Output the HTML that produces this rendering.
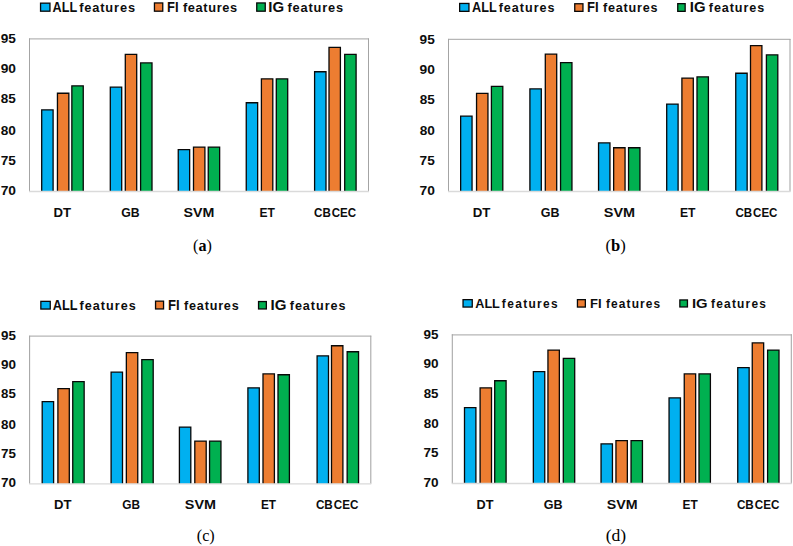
<!DOCTYPE html>
<html><head><meta charset="utf-8"><style>
html,body{margin:0;padding:0;background:#fff;}
svg{display:block;}
</style></head><body>
<svg width="793" height="546" viewBox="0 0 793 546">
<rect width="793" height="546" fill="#fff"/>
<line x1="29.0" y1="38.9" x2="369.0" y2="38.9" stroke="#B6B6B6" stroke-width="1.2"/>
<line x1="29.5" y1="38.4" x2="29.5" y2="191.5" stroke="#A4A4A4" stroke-width="1.05"/>
<line x1="368.5" y1="38.4" x2="368.5" y2="191.5" stroke="#A4A4A4" stroke-width="1.05"/>
<rect x="41.70" y="109.85" width="11.40" height="81.65" fill="#00B0F0"/>
<path d="M41.70,191.50 V109.85 H53.10 V191.50" fill="none" stroke="#080808" stroke-width="1.3"/>
<rect x="57.45" y="93.25" width="11.40" height="98.25" fill="#ED7D31"/>
<path d="M57.45,191.50 V93.25 H68.85 V191.50" fill="none" stroke="#080808" stroke-width="1.3"/>
<rect x="71.85" y="85.85" width="11.40" height="105.65" fill="#00B050"/>
<path d="M71.85,191.50 V85.85 H83.25 V191.50" fill="none" stroke="#080808" stroke-width="1.3"/>
<rect x="110.30" y="87.15" width="11.40" height="104.35" fill="#00B0F0"/>
<path d="M110.30,191.50 V87.15 H121.70 V191.50" fill="none" stroke="#080808" stroke-width="1.3"/>
<rect x="125.30" y="54.35" width="11.40" height="137.15" fill="#ED7D31"/>
<path d="M125.30,191.50 V54.35 H136.70 V191.50" fill="none" stroke="#080808" stroke-width="1.3"/>
<rect x="140.60" y="62.95" width="11.40" height="128.55" fill="#00B050"/>
<path d="M140.60,191.50 V62.95 H152.00 V191.50" fill="none" stroke="#080808" stroke-width="1.3"/>
<rect x="178.25" y="149.65" width="11.40" height="41.85" fill="#00B0F0"/>
<path d="M178.25,191.50 V149.65 H189.65 V191.50" fill="none" stroke="#080808" stroke-width="1.3"/>
<rect x="193.50" y="147.05" width="11.40" height="44.45" fill="#ED7D31"/>
<path d="M193.50,191.50 V147.05 H204.90 V191.50" fill="none" stroke="#080808" stroke-width="1.3"/>
<rect x="208.25" y="147.05" width="11.40" height="44.45" fill="#00B050"/>
<path d="M208.25,191.50 V147.05 H219.65 V191.50" fill="none" stroke="#080808" stroke-width="1.3"/>
<rect x="246.25" y="102.75" width="11.40" height="88.75" fill="#00B0F0"/>
<path d="M246.25,191.50 V102.75 H257.65 V191.50" fill="none" stroke="#080808" stroke-width="1.3"/>
<rect x="261.40" y="78.85" width="11.40" height="112.65" fill="#ED7D31"/>
<path d="M261.40,191.50 V78.85 H272.80 V191.50" fill="none" stroke="#080808" stroke-width="1.3"/>
<rect x="276.30" y="78.85" width="11.40" height="112.65" fill="#00B050"/>
<path d="M276.30,191.50 V78.85 H287.70 V191.50" fill="none" stroke="#080808" stroke-width="1.3"/>
<rect x="314.60" y="71.75" width="11.40" height="119.75" fill="#00B0F0"/>
<path d="M314.60,191.50 V71.75 H326.00 V191.50" fill="none" stroke="#080808" stroke-width="1.3"/>
<rect x="329.00" y="47.35" width="11.40" height="144.15" fill="#ED7D31"/>
<path d="M329.00,191.50 V47.35 H340.40 V191.50" fill="none" stroke="#080808" stroke-width="1.3"/>
<rect x="344.70" y="54.35" width="11.40" height="137.15" fill="#00B050"/>
<path d="M344.70,191.50 V54.35 H356.10 V191.50" fill="none" stroke="#080808" stroke-width="1.3"/>
<line x1="29.0" y1="191.5" x2="369.0" y2="191.5" stroke="#DADADA" stroke-width="1.3"/>
<text transform="translate(0.65,43.00) scale(1.0130,1)" font-family="Liberation Sans" font-weight="bold" font-size="13.48" fill="#0d0d0d">95</text>
<text transform="translate(0.65,73.00) scale(1.0229,1)" font-family="Liberation Sans" font-weight="bold" font-size="13.48" fill="#0d0d0d">90</text>
<text transform="translate(0.79,103.00) scale(1.0034,1)" font-family="Liberation Sans" font-weight="bold" font-size="13.48" fill="#0d0d0d">85</text>
<text transform="translate(0.79,135.00) scale(1.0130,1)" font-family="Liberation Sans" font-weight="bold" font-size="13.48" fill="#0d0d0d">80</text>
<text transform="translate(0.65,165.00) scale(1.0130,1)" font-family="Liberation Sans" font-weight="bold" font-size="13.48" fill="#0d0d0d">75</text>
<text transform="translate(0.65,195.00) scale(1.0229,1)" font-family="Liberation Sans" font-weight="bold" font-size="13.48" fill="#0d0d0d">70</text>
<text transform="translate(53.48,216.90) scale(1.0120,1)" font-family="Liberation Sans" font-weight="bold" font-size="13.04" fill="#0d0d0d">DT</text>
<text transform="translate(121.21,216.90) scale(0.9407,1)" font-family="Liberation Sans" font-weight="bold" font-size="13.04" fill="#0d0d0d">GB</text>
<text transform="translate(183.57,216.90) scale(1.0926,1)" font-family="Liberation Sans" font-weight="bold" font-size="13.04" fill="#0d0d0d">SVM</text>
<text transform="translate(259.45,216.90) scale(0.9264,1)" font-family="Liberation Sans" font-weight="bold" font-size="13.04" fill="#0d0d0d">ET</text>
<text transform="translate(314.04,216.90) scale(0.8907,1)" font-family="Liberation Sans" font-weight="bold" font-size="13.04" fill="#0d0d0d">CB</text>
<text transform="translate(331.74,216.90) scale(0.8869,1)" font-family="Liberation Sans" font-weight="bold" font-size="13.04" fill="#0d0d0d">CEC</text>
<rect x="40.55" y="3.15" width="9.40" height="8.05" fill="#00B0F0" stroke="#080808" stroke-width="1.3"/>
<text transform="translate(52.62,11.85) scale(0.9052,1)" font-family="Liberation Sans" font-weight="bold" font-size="13.99" fill="#0d0d0d">ALL</text>
<text x="79.14" y="11.85" letter-spacing="0.870" font-family="Liberation Sans" font-weight="bold" font-size="12.80" fill="#0d0d0d">features</text>
<rect x="154.45" y="2.95" width="8.30" height="8.25" fill="#ED7D31" stroke="#080808" stroke-width="1.3"/>
<text transform="translate(167.09,11.85) scale(0.9248,1)" font-family="Liberation Sans" font-weight="bold" font-size="13.99" fill="#0d0d0d">FI</text>
<text x="182.94" y="11.85" letter-spacing="0.627" font-family="Liberation Sans" font-weight="bold" font-size="12.80" fill="#0d0d0d">features</text>
<rect x="256.75" y="2.95" width="8.50" height="8.25" fill="#00B050" stroke="#080808" stroke-width="1.3"/>
<text transform="translate(268.25,11.85) scale(1.0725,1)" font-family="Liberation Sans" font-weight="bold" font-size="13.99" fill="#0d0d0d">IG</text>
<text x="287.44" y="11.85" letter-spacing="0.827" font-family="Liberation Sans" font-weight="bold" font-size="12.80" fill="#0d0d0d">features</text>
<text transform="translate(193.06,251.20) scale(0.9667,1)" font-family="Liberation Serif" font-weight="normal" font-size="16.67" fill="#000">(<tspan font-weight="bold">a</tspan>)</text>
<line x1="448.0" y1="39.4" x2="790.5" y2="39.4" stroke="#B6B6B6" stroke-width="1.2"/>
<line x1="448.5" y1="38.9" x2="448.5" y2="191.5" stroke="#A4A4A4" stroke-width="1.05"/>
<line x1="790" y1="38.9" x2="790" y2="191.5" stroke="#A4A4A4" stroke-width="1.05"/>
<rect x="460.65" y="116.15" width="11.40" height="75.35" fill="#00B0F0"/>
<path d="M460.65,191.50 V116.15 H472.05 V191.50" fill="none" stroke="#080808" stroke-width="1.3"/>
<rect x="476.55" y="93.45" width="11.40" height="98.05" fill="#ED7D31"/>
<path d="M476.55,191.50 V93.45 H487.95 V191.50" fill="none" stroke="#080808" stroke-width="1.3"/>
<rect x="491.40" y="86.45" width="11.40" height="105.05" fill="#00B050"/>
<path d="M491.40,191.50 V86.45 H502.80 V191.50" fill="none" stroke="#080808" stroke-width="1.3"/>
<rect x="529.90" y="88.95" width="11.40" height="102.55" fill="#00B0F0"/>
<path d="M529.90,191.50 V88.95 H541.30 V191.50" fill="none" stroke="#080808" stroke-width="1.3"/>
<rect x="545.30" y="54.15" width="11.40" height="137.35" fill="#ED7D31"/>
<path d="M545.30,191.50 V54.15 H556.70 V191.50" fill="none" stroke="#080808" stroke-width="1.3"/>
<rect x="560.55" y="62.65" width="11.40" height="128.85" fill="#00B050"/>
<path d="M560.55,191.50 V62.65 H571.95 V191.50" fill="none" stroke="#080808" stroke-width="1.3"/>
<rect x="598.55" y="142.95" width="11.40" height="48.55" fill="#00B0F0"/>
<path d="M598.55,191.50 V142.95 H609.95 V191.50" fill="none" stroke="#080808" stroke-width="1.3"/>
<rect x="613.65" y="147.75" width="11.40" height="43.75" fill="#ED7D31"/>
<path d="M613.65,191.50 V147.75 H625.05 V191.50" fill="none" stroke="#080808" stroke-width="1.3"/>
<rect x="628.55" y="147.75" width="11.40" height="43.75" fill="#00B050"/>
<path d="M628.55,191.50 V147.75 H639.95 V191.50" fill="none" stroke="#080808" stroke-width="1.3"/>
<rect x="666.70" y="104.05" width="11.40" height="87.45" fill="#00B0F0"/>
<path d="M666.70,191.50 V104.05 H678.10 V191.50" fill="none" stroke="#080808" stroke-width="1.3"/>
<rect x="681.90" y="78.05" width="11.40" height="113.45" fill="#ED7D31"/>
<path d="M681.90,191.50 V78.05 H693.30 V191.50" fill="none" stroke="#080808" stroke-width="1.3"/>
<rect x="697.00" y="76.85" width="11.40" height="114.65" fill="#00B050"/>
<path d="M697.00,191.50 V76.85 H708.40 V191.50" fill="none" stroke="#080808" stroke-width="1.3"/>
<rect x="735.75" y="73.25" width="11.40" height="118.25" fill="#00B0F0"/>
<path d="M735.75,191.50 V73.25 H747.15 V191.50" fill="none" stroke="#080808" stroke-width="1.3"/>
<rect x="750.50" y="45.55" width="11.40" height="145.95" fill="#ED7D31"/>
<path d="M750.50,191.50 V45.55 H761.90 V191.50" fill="none" stroke="#080808" stroke-width="1.3"/>
<rect x="766.40" y="54.85" width="11.40" height="136.65" fill="#00B050"/>
<path d="M766.40,191.50 V54.85 H777.80 V191.50" fill="none" stroke="#080808" stroke-width="1.3"/>
<line x1="448.0" y1="191.5" x2="790.5" y2="191.5" stroke="#DADADA" stroke-width="1.3"/>
<text transform="translate(419.55,44.00) scale(1.0130,1)" font-family="Liberation Sans" font-weight="bold" font-size="13.48" fill="#0d0d0d">95</text>
<text transform="translate(419.55,74.00) scale(1.0229,1)" font-family="Liberation Sans" font-weight="bold" font-size="13.48" fill="#0d0d0d">90</text>
<text transform="translate(419.69,104.00) scale(1.0034,1)" font-family="Liberation Sans" font-weight="bold" font-size="13.48" fill="#0d0d0d">85</text>
<text transform="translate(419.69,135.00) scale(1.0130,1)" font-family="Liberation Sans" font-weight="bold" font-size="13.48" fill="#0d0d0d">80</text>
<text transform="translate(419.55,165.00) scale(1.0130,1)" font-family="Liberation Sans" font-weight="bold" font-size="13.48" fill="#0d0d0d">75</text>
<text transform="translate(419.55,195.00) scale(1.0229,1)" font-family="Liberation Sans" font-weight="bold" font-size="13.48" fill="#0d0d0d">70</text>
<text transform="translate(472.77,217.20) scale(0.9960,1)" font-family="Liberation Sans" font-weight="bold" font-size="13.33" fill="#0d0d0d">DT</text>
<text transform="translate(540.80,217.20) scale(0.9362,1)" font-family="Liberation Sans" font-weight="bold" font-size="13.33" fill="#0d0d0d">GB</text>
<text transform="translate(603.77,217.20) scale(1.0833,1)" font-family="Liberation Sans" font-weight="bold" font-size="13.33" fill="#0d0d0d">SVM</text>
<text transform="translate(679.95,217.20) scale(0.9125,1)" font-family="Liberation Sans" font-weight="bold" font-size="13.33" fill="#0d0d0d">ET</text>
<text transform="translate(735.44,217.20) scale(0.8692,1)" font-family="Liberation Sans" font-weight="bold" font-size="13.33" fill="#0d0d0d">CB</text>
<text transform="translate(753.10,217.20) scale(0.8655,1)" font-family="Liberation Sans" font-weight="bold" font-size="13.33" fill="#0d0d0d">CEC</text>
<rect x="459.65" y="3.45" width="9.30" height="7.90" fill="#00B0F0" stroke="#080808" stroke-width="1.3"/>
<text transform="translate(472.12,12.00) scale(0.9206,1)" font-family="Liberation Sans" font-weight="bold" font-size="13.77" fill="#0d0d0d">ALL</text>
<text x="498.68" y="12.00" letter-spacing="0.988" font-family="Liberation Sans" font-weight="bold" font-size="12.60" fill="#0d0d0d">features</text>
<rect x="574.75" y="3.75" width="8.20" height="7.60" fill="#ED7D31" stroke="#080808" stroke-width="1.3"/>
<text transform="translate(587.09,12.00) scale(0.9448,1)" font-family="Liberation Sans" font-weight="bold" font-size="13.77" fill="#0d0d0d">FI</text>
<text x="603.04" y="12.00" letter-spacing="0.780" font-family="Liberation Sans" font-weight="bold" font-size="12.60" fill="#0d0d0d">features</text>
<rect x="677.75" y="3.65" width="7.40" height="7.70" fill="#00B050" stroke="#080808" stroke-width="1.3"/>
<text transform="translate(689.75,12.00) scale(1.0850,1)" font-family="Liberation Sans" font-weight="bold" font-size="13.77" fill="#0d0d0d">IG</text>
<text x="708.87" y="12.00" letter-spacing="0.904" font-family="Liberation Sans" font-weight="bold" font-size="12.60" fill="#0d0d0d">features</text>
<text transform="translate(605.54,251.00) scale(0.9947,1)" font-family="Liberation Serif" font-weight="normal" font-size="16.67" fill="#000">(<tspan font-weight="bold">b</tspan>)</text>
<line x1="29.1" y1="336.2" x2="371.3" y2="336.2" stroke="#B6B6B6" stroke-width="1.2"/>
<line x1="29.6" y1="335.7" x2="29.6" y2="483.8" stroke="#A4A4A4" stroke-width="1.05"/>
<line x1="370.8" y1="335.7" x2="370.8" y2="483.8" stroke="#A4A4A4" stroke-width="1.05"/>
<rect x="42.20" y="401.65" width="11.40" height="82.15" fill="#00B0F0"/>
<path d="M42.20,483.80 V401.65 H53.60 V483.80" fill="none" stroke="#080808" stroke-width="1.3"/>
<rect x="57.90" y="388.65" width="11.40" height="95.15" fill="#ED7D31"/>
<path d="M57.90,483.80 V388.65 H69.30 V483.80" fill="none" stroke="#080808" stroke-width="1.3"/>
<rect x="72.75" y="381.55" width="11.40" height="102.25" fill="#00B050"/>
<path d="M72.75,483.80 V381.55 H84.15 V483.80" fill="none" stroke="#080808" stroke-width="1.3"/>
<rect x="111.10" y="372.15" width="11.40" height="111.65" fill="#00B0F0"/>
<path d="M111.10,483.80 V372.15 H122.50 V483.80" fill="none" stroke="#080808" stroke-width="1.3"/>
<rect x="126.35" y="352.55" width="11.40" height="131.25" fill="#ED7D31"/>
<path d="M126.35,483.80 V352.55 H137.75 V483.80" fill="none" stroke="#080808" stroke-width="1.3"/>
<rect x="141.80" y="359.65" width="11.40" height="124.15" fill="#00B050"/>
<path d="M141.80,483.80 V359.65 H153.20 V483.80" fill="none" stroke="#080808" stroke-width="1.3"/>
<rect x="179.40" y="427.05" width="11.40" height="56.75" fill="#00B0F0"/>
<path d="M179.40,483.80 V427.05 H190.80 V483.80" fill="none" stroke="#080808" stroke-width="1.3"/>
<rect x="194.80" y="441.05" width="11.40" height="42.75" fill="#ED7D31"/>
<path d="M194.80,483.80 V441.05 H206.20 V483.80" fill="none" stroke="#080808" stroke-width="1.3"/>
<rect x="209.55" y="441.05" width="11.40" height="42.75" fill="#00B050"/>
<path d="M209.55,483.80 V441.05 H220.95 V483.80" fill="none" stroke="#080808" stroke-width="1.3"/>
<rect x="247.90" y="387.85" width="11.40" height="95.95" fill="#00B0F0"/>
<path d="M247.90,483.80 V387.85 H259.30 V483.80" fill="none" stroke="#080808" stroke-width="1.3"/>
<rect x="263.00" y="373.95" width="11.40" height="109.85" fill="#ED7D31"/>
<path d="M263.00,483.80 V373.95 H274.40 V483.80" fill="none" stroke="#080808" stroke-width="1.3"/>
<rect x="278.00" y="374.75" width="11.40" height="109.05" fill="#00B050"/>
<path d="M278.00,483.80 V374.75 H289.40 V483.80" fill="none" stroke="#080808" stroke-width="1.3"/>
<rect x="317.10" y="355.85" width="11.40" height="127.95" fill="#00B0F0"/>
<path d="M317.10,483.80 V355.85 H328.50 V483.80" fill="none" stroke="#080808" stroke-width="1.3"/>
<rect x="331.50" y="345.75" width="11.40" height="138.05" fill="#ED7D31"/>
<path d="M331.50,483.80 V345.75 H342.90 V483.80" fill="none" stroke="#080808" stroke-width="1.3"/>
<rect x="347.15" y="351.75" width="11.40" height="132.05" fill="#00B050"/>
<path d="M347.15,483.80 V351.75 H358.55 V483.80" fill="none" stroke="#080808" stroke-width="1.3"/>
<line x1="29.1" y1="483.8" x2="371.3" y2="483.8" stroke="#DADADA" stroke-width="1.3"/>
<text transform="translate(0.97,340.00) scale(0.9916,1)" font-family="Liberation Sans" font-weight="bold" font-size="13.48" fill="#0d0d0d">95</text>
<text transform="translate(0.96,369.00) scale(1.0013,1)" font-family="Liberation Sans" font-weight="bold" font-size="13.48" fill="#0d0d0d">90</text>
<text transform="translate(1.10,398.00) scale(0.9822,1)" font-family="Liberation Sans" font-weight="bold" font-size="13.48" fill="#0d0d0d">85</text>
<text transform="translate(1.10,429.00) scale(0.9916,1)" font-family="Liberation Sans" font-weight="bold" font-size="13.48" fill="#0d0d0d">80</text>
<text transform="translate(0.97,458.00) scale(0.9916,1)" font-family="Liberation Sans" font-weight="bold" font-size="13.48" fill="#0d0d0d">75</text>
<text transform="translate(0.96,487.00) scale(1.0013,1)" font-family="Liberation Sans" font-weight="bold" font-size="13.48" fill="#0d0d0d">70</text>
<text transform="translate(54.08,509.20) scale(1.0172,1)" font-family="Liberation Sans" font-weight="bold" font-size="12.90" fill="#0d0d0d">DT</text>
<text transform="translate(122.33,509.20) scale(0.9182,1)" font-family="Liberation Sans" font-weight="bold" font-size="12.90" fill="#0d0d0d">GB</text>
<text transform="translate(184.87,509.20) scale(1.1161,1)" font-family="Liberation Sans" font-weight="bold" font-size="12.90" fill="#0d0d0d">SVM</text>
<text transform="translate(260.97,509.20) scale(0.9174,1)" font-family="Liberation Sans" font-weight="bold" font-size="12.90" fill="#0d0d0d">ET</text>
<text transform="translate(315.93,509.20) scale(0.9072,1)" font-family="Liberation Sans" font-weight="bold" font-size="12.90" fill="#0d0d0d">CB</text>
<text transform="translate(333.76,509.20) scale(0.9034,1)" font-family="Liberation Sans" font-weight="bold" font-size="12.90" fill="#0d0d0d">CEC</text>
<rect x="40.85" y="301.35" width="9.40" height="7.70" fill="#00B0F0" stroke="#080808" stroke-width="1.3"/>
<text transform="translate(52.72,309.60) scale(0.9274,1)" font-family="Liberation Sans" font-weight="bold" font-size="13.77" fill="#0d0d0d">ALL</text>
<text x="79.47" y="309.60" letter-spacing="1.046" font-family="Liberation Sans" font-weight="bold" font-size="12.60" fill="#0d0d0d">features</text>
<rect x="155.55" y="301.15" width="8.00" height="7.80" fill="#ED7D31" stroke="#080808" stroke-width="1.3"/>
<text transform="translate(167.99,309.60) scale(0.9490,1)" font-family="Liberation Sans" font-weight="bold" font-size="13.77" fill="#0d0d0d">FI</text>
<text x="184.00" y="309.60" letter-spacing="0.814" font-family="Liberation Sans" font-weight="bold" font-size="12.60" fill="#0d0d0d">features</text>
<rect x="258.55" y="301.55" width="7.80" height="7.40" fill="#00B050" stroke="#080808" stroke-width="1.3"/>
<text transform="translate(270.45,309.60) scale(1.0939,1)" font-family="Liberation Sans" font-weight="bold" font-size="13.77" fill="#0d0d0d">IG</text>
<text x="289.72" y="309.60" letter-spacing="0.968" font-family="Liberation Sans" font-weight="bold" font-size="12.60" fill="#0d0d0d">features</text>
<text transform="translate(196.76,541.12) scale(1.0003,1)" font-family="Liberation Serif" font-weight="normal" font-size="16.11" fill="#000">(<tspan font-weight="normal">c</tspan>)</text>
<line x1="451.8" y1="334.8" x2="791.8" y2="334.8" stroke="#B6B6B6" stroke-width="1.2"/>
<line x1="452.3" y1="334.3" x2="452.3" y2="483.5" stroke="#A4A4A4" stroke-width="1.05"/>
<line x1="791.3" y1="334.3" x2="791.3" y2="483.5" stroke="#A4A4A4" stroke-width="1.05"/>
<rect x="464.50" y="407.55" width="11.40" height="75.95" fill="#00B0F0"/>
<path d="M464.50,483.50 V407.55 H475.90 V483.50" fill="none" stroke="#080808" stroke-width="1.3"/>
<rect x="480.10" y="387.85" width="11.40" height="95.65" fill="#ED7D31"/>
<path d="M480.10,483.50 V387.85 H491.50 V483.50" fill="none" stroke="#080808" stroke-width="1.3"/>
<rect x="494.70" y="380.75" width="11.40" height="102.75" fill="#00B050"/>
<path d="M494.70,483.50 V380.75 H506.10 V483.50" fill="none" stroke="#080808" stroke-width="1.3"/>
<rect x="533.35" y="371.55" width="11.40" height="111.95" fill="#00B0F0"/>
<path d="M533.35,483.50 V371.55 H544.75 V483.50" fill="none" stroke="#080808" stroke-width="1.3"/>
<rect x="547.95" y="350.05" width="11.40" height="133.45" fill="#ED7D31"/>
<path d="M547.95,483.50 V350.05 H559.35 V483.50" fill="none" stroke="#080808" stroke-width="1.3"/>
<rect x="563.30" y="358.35" width="11.40" height="125.15" fill="#00B050"/>
<path d="M563.30,483.50 V358.35 H574.70 V483.50" fill="none" stroke="#080808" stroke-width="1.3"/>
<rect x="601.05" y="443.85" width="11.40" height="39.65" fill="#00B0F0"/>
<path d="M601.05,483.50 V443.85 H612.45 V483.50" fill="none" stroke="#080808" stroke-width="1.3"/>
<rect x="615.95" y="440.55" width="11.40" height="42.95" fill="#ED7D31"/>
<path d="M615.95,483.50 V440.55 H627.35 V483.50" fill="none" stroke="#080808" stroke-width="1.3"/>
<rect x="631.05" y="440.55" width="11.40" height="42.95" fill="#00B050"/>
<path d="M631.05,483.50 V440.55 H642.45 V483.50" fill="none" stroke="#080808" stroke-width="1.3"/>
<rect x="669.05" y="397.95" width="11.40" height="85.55" fill="#00B0F0"/>
<path d="M669.05,483.50 V397.95 H680.45 V483.50" fill="none" stroke="#080808" stroke-width="1.3"/>
<rect x="684.25" y="373.95" width="11.40" height="109.55" fill="#ED7D31"/>
<path d="M684.25,483.50 V373.95 H695.65 V483.50" fill="none" stroke="#080808" stroke-width="1.3"/>
<rect x="699.00" y="373.95" width="11.40" height="109.55" fill="#00B050"/>
<path d="M699.00,483.50 V373.95 H710.40 V483.50" fill="none" stroke="#080808" stroke-width="1.3"/>
<rect x="737.75" y="367.65" width="11.40" height="115.85" fill="#00B0F0"/>
<path d="M737.75,483.50 V367.65 H749.15 V483.50" fill="none" stroke="#080808" stroke-width="1.3"/>
<rect x="752.25" y="342.95" width="11.40" height="140.55" fill="#ED7D31"/>
<path d="M752.25,483.50 V342.95 H763.65 V483.50" fill="none" stroke="#080808" stroke-width="1.3"/>
<rect x="767.60" y="350.05" width="11.40" height="133.45" fill="#00B050"/>
<path d="M767.60,483.50 V350.05 H779.00 V483.50" fill="none" stroke="#080808" stroke-width="1.3"/>
<line x1="451.8" y1="483.5" x2="791.8" y2="483.5" stroke="#DADADA" stroke-width="1.3"/>
<text transform="translate(423.56,339.00) scale(0.9988,1)" font-family="Liberation Sans" font-weight="bold" font-size="13.48" fill="#0d0d0d">95</text>
<text transform="translate(423.56,368.00) scale(1.0085,1)" font-family="Liberation Sans" font-weight="bold" font-size="13.48" fill="#0d0d0d">90</text>
<text transform="translate(423.70,398.00) scale(0.9892,1)" font-family="Liberation Sans" font-weight="bold" font-size="13.48" fill="#0d0d0d">85</text>
<text transform="translate(423.70,428.00) scale(0.9988,1)" font-family="Liberation Sans" font-weight="bold" font-size="13.48" fill="#0d0d0d">80</text>
<text transform="translate(423.56,457.00) scale(0.9988,1)" font-family="Liberation Sans" font-weight="bold" font-size="13.48" fill="#0d0d0d">75</text>
<text transform="translate(423.56,487.00) scale(1.0085,1)" font-family="Liberation Sans" font-weight="bold" font-size="13.48" fill="#0d0d0d">70</text>
<text transform="translate(476.61,509.10) scale(0.9974,1)" font-family="Liberation Sans" font-weight="bold" font-size="12.75" fill="#0d0d0d">DT</text>
<text transform="translate(543.80,509.10) scale(0.9843,1)" font-family="Liberation Sans" font-weight="bold" font-size="12.75" fill="#0d0d0d">GB</text>
<text transform="translate(606.77,509.10) scale(1.1174,1)" font-family="Liberation Sans" font-weight="bold" font-size="12.75" fill="#0d0d0d">SVM</text>
<text transform="translate(682.47,509.10) scale(0.9344,1)" font-family="Liberation Sans" font-weight="bold" font-size="12.75" fill="#0d0d0d">ET</text>
<text transform="translate(736.93,509.10) scale(0.9175,1)" font-family="Liberation Sans" font-weight="bold" font-size="12.75" fill="#0d0d0d">CB</text>
<text transform="translate(754.76,509.10) scale(0.9137,1)" font-family="Liberation Sans" font-weight="bold" font-size="12.75" fill="#0d0d0d">CEC</text>
<rect x="463.05" y="299.65" width="9.20" height="7.40" fill="#00B0F0" stroke="#080808" stroke-width="1.3"/>
<text transform="translate(475.22,307.70) scale(0.9729,1)" font-family="Liberation Sans" font-weight="bold" font-size="13.04" fill="#0d0d0d">ALL</text>
<text x="501.83" y="307.70" letter-spacing="1.361" font-family="Liberation Sans" font-weight="bold" font-size="11.93" fill="#0d0d0d">features</text>
<rect x="577.45" y="299.65" width="7.90" height="7.40" fill="#ED7D31" stroke="#080808" stroke-width="1.3"/>
<text transform="translate(589.99,307.70) scale(0.9959,1)" font-family="Liberation Sans" font-weight="bold" font-size="13.04" fill="#0d0d0d">FI</text>
<text x="605.93" y="307.70" letter-spacing="1.132" font-family="Liberation Sans" font-weight="bold" font-size="11.93" fill="#0d0d0d">features</text>
<rect x="679.85" y="299.95" width="7.60" height="7.00" fill="#00B050" stroke="#080808" stroke-width="1.3"/>
<text transform="translate(691.96,307.70) scale(1.1390,1)" font-family="Liberation Sans" font-weight="bold" font-size="13.04" fill="#0d0d0d">IG</text>
<text x="710.99" y="307.70" letter-spacing="1.224" font-family="Liberation Sans" font-weight="bold" font-size="11.93" fill="#0d0d0d">features</text>
<text transform="translate(605.70,541.03) scale(1.0349,1)" font-family="Liberation Serif" font-weight="normal" font-size="17.00" fill="#000">(<tspan font-weight="normal">d</tspan>)</text>
</svg>
</body></html>
